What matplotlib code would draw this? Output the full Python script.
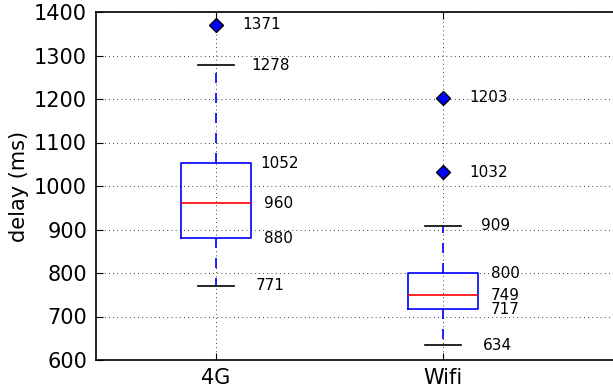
import matplotlib
matplotlib.use('Agg')
import matplotlib.pyplot as plt

networks = ['4G', 'Wifi']
q1 = [880, 717]
medians = [960, 749]
q3 = [1052, 800]
whisker_low = [771, 634]
whisker_high = [1278, 909]
outliers = [[1371], [1032, 1203]]

stats = []
for i, name in enumerate(networks):
    stats.append({'label': name, 'q1': q1[i], 'med': medians[i], 'q3': q3[i],
                  'whislo': whisker_low[i], 'whishi': whisker_high[i],
                  'fliers': outliers[i]})

fig = plt.figure(figsize=(6.13, 3.92), dpi=100)
ax = fig.add_axes([95.5 / 613, 32 / 392, 530 / 613, 348 / 392])

ax.bxp(stats, positions=[1, 2], widths=0.31, capwidths=0.16,
       boxprops=dict(color='blue', linewidth=1.2),
       medianprops=dict(color='red', linewidth=1.2),
       whiskerprops=dict(color='blue', linewidth=1.2, linestyle=(0, (6, 6))),
       capprops=dict(color='black', linewidth=1.2),
       flierprops=dict(marker='D', markerfacecolor='blue', markeredgecolor='black',
                       markersize=7, linestyle='none'))

# value labels to the right of each box
for i in range(len(networks)):
    pos = i + 1
    labels = [(whisker_high[i], 0.155 if i == 0 else 0.167),
              (q3[i], 0.194 if i == 0 else 0.211),
              (medians[i], 0.211),
              (q1[i], 0.211),
              (whisker_low[i], 0.174)]
    labels += [(v, 0.115) for v in outliers[i]]
    for v, dx in labels:
        ax.text(pos + dx, v, str(v), va='center', fontsize=11)

ax.set_xlim(0.469, 0.469 + 530 / 227)
ax.set_ylim(600, 1400)
ax.set_xticks([1, 2])
ax.set_xticklabels(networks)
ax.set_yticks(range(600, 1401, 100))
ax.tick_params(direction='in', top=True, right=True, labelsize=15, length=5, pad=6)
ax.set_ylabel('delay (ms)', fontsize=15)
ax.grid(True, color='black', linestyle=(0, (1, 4)), linewidth=0.6)
for s in ax.spines.values():
    s.set_linewidth(1.2)

fig.savefig('out.png', dpi=100)
